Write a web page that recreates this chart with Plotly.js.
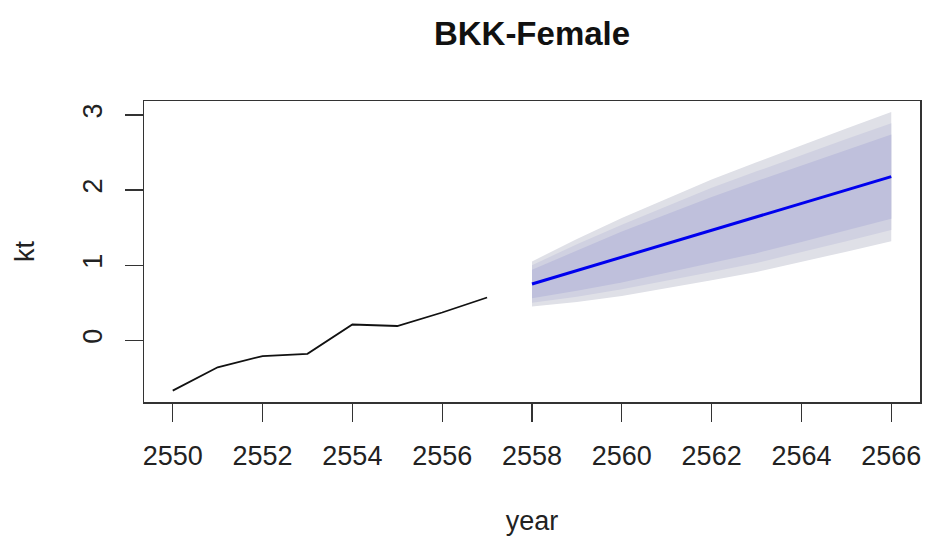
<!DOCTYPE html>
<html>
<head>
<meta charset="utf-8">
<script src="https://cdn.plot.ly/plotly-3.0.1.min.js"></script>
<style>html,body{margin:0;padding:0;background:#fff;}#chart{width:925px;height:541px;}</style>
</head>
<body>
<div id="chart"></div>
<script>
// Historical kt
var histYears = [2550, 2551, 2552, 2553, 2554, 2555, 2556, 2557];
var histKt = [-0.67, -0.36, -0.21, -0.18, 0.21, 0.19, 0.37, 0.57];

// Forecast
var fcYears = [2558, 2559, 2560, 2561, 2562, 2563, 2564, 2565, 2566];
var fcMean = [0.75, 0.93, 1.11, 1.29, 1.47, 1.64, 1.82, 2.00, 2.18];
var fcUpper95 = [1.05, 1.35, 1.63, 1.89, 2.14, 2.37, 2.60, 2.82, 3.04];
var fcLower95 = [0.45, 0.51, 0.59, 0.69, 0.80, 0.91, 1.04, 1.18, 1.32];
var fcUpper90 = [1.00, 1.28, 1.54, 1.79, 2.03, 2.25, 2.47, 2.68, 2.89];
var fcLower90 = [0.50, 0.58, 0.68, 0.79, 0.91, 1.03, 1.17, 1.32, 1.47];
var fcUpper80 = [0.94, 1.20, 1.45, 1.68, 1.91, 2.12, 2.33, 2.54, 2.74];
var fcLower80 = [0.56, 0.66, 0.77, 0.90, 1.03, 1.16, 1.31, 1.46, 1.62];

var xTicks = [2550, 2552, 2554, 2556, 2558, 2560, 2562, 2564, 2566];
var yTicks = [0, 1, 2, 3];

function band(lower, upper, color) {
  return {
    x: fcYears.concat(fcYears.slice().reverse()),
    y: upper.concat(lower.slice().reverse()),
    type: 'scatter', mode: 'lines', fill: 'toself',
    fillcolor: color, line: {width: 0, color: color},
    hoverinfo: 'skip', showlegend: false
  };
}

var traces = [
  band(fcLower95, fcUpper95, '#dfe0e7'),
  band(fcLower90, fcUpper90, '#d0d1e1'),
  band(fcLower80, fcUpper80, '#bfc0dc'),
  {x: histYears, y: histKt, type: 'scatter', mode: 'lines',
   line: {color: '#111', width: 1.8}, showlegend: false},
  {x: fcYears, y: fcMean, type: 'scatter', mode: 'lines',
   line: {color: '#0000ee', width: 3}, showlegend: false}
];

var fontFam = 'Liberation Sans, Arial, Helvetica, sans-serif';
var layout = {
  width: 925, height: 541,
  margin: {l: 144, r: 5, t: 101, b: 139},
  paper_bgcolor: '#fff', plot_bgcolor: '#fff',
  font: {family: fontFam, color: '#222', size: 27},
  title: {text: '<b>BKK-Female</b>', x: 0.5, xref: 'paper', xanchor: 'center',
          y: 1 - 33/541, yref: 'container', yanchor: 'middle',
          font: {family: fontFam, size: 33, color: '#111'}},
  xaxis: {
    range: [2549.36, 2566.64], tickvals: xTicks, ticktext: xTicks.map(String),
    showgrid: false, zeroline: false,
    showline: true, mirror: true, linecolor: '#333', linewidth: 1.5,
    ticks: 'outside', ticklen: 18, tickwidth: 1.3, tickcolor: '#333',
    ticklabelstandoff: 11,
    tickfont: {size: 27, family: fontFam, color: '#222'},
    title: {text: 'year', font: {size: 27, family: fontFam, color: '#222'}, standoff: 41}
  },
  yaxis: {
    range: [-0.822, 3.187], tickvals: yTicks, ticktext: yTicks.map(String),
    showgrid: false, zeroline: false,
    showline: true, mirror: true, linecolor: '#333', linewidth: 1.5,
    ticks: 'outside', ticklen: 18, tickwidth: 1.3, tickcolor: '#333',
    tickangle: -90, ticklabelstandoff: 12,
    tickfont: {size: 27, family: fontFam, color: '#222'},
    title: {text: 'kt', font: {size: 27, family: fontFam, color: '#222'}, standoff: 35}
  }
};

Plotly.newPlot('chart', traces, layout, {staticPlot: true, displayModeBar: false});
</script>
</body>
</html>
